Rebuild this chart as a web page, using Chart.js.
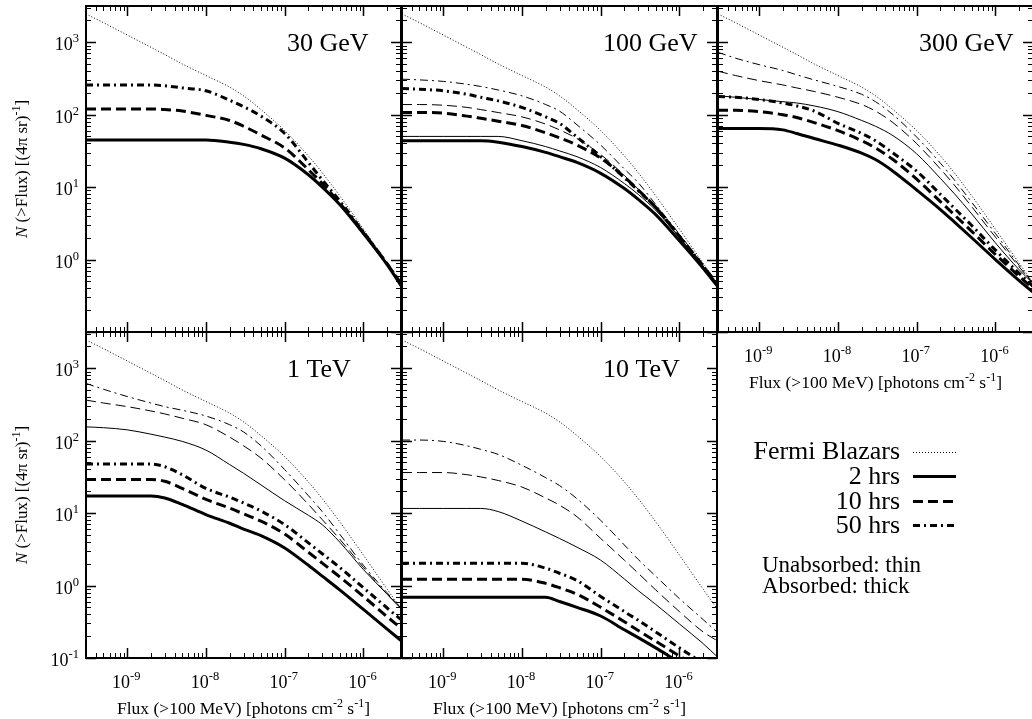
<!DOCTYPE html>
<html><head><meta charset="utf-8">
<script src="https://cdn.jsdelivr.net/npm/chart.js@4.4.0/dist/chart.umd.min.js"></script>
<style>
html,body{margin:0;padding:0;background:#fff;overflow:hidden;width:1032px;height:719px;position:relative;}
canvas{position:absolute;left:0;top:0;}
</style></head><body>
<script>
// ---------------- DATA ----------------
const flux = [3e-10,5e-10,1e-9,2e-9,3e-9,5e-9,1e-8,2e-8,3e-8,5e-8,1e-7,2e-7,3e-7,5e-7,1e-6,2e-6,3e-6];
const xTickExps = [-9,-8,-7,-6];
const yTickExps = [3,2,1,0,-1];

const fermiBlazars = [2455,1862,1259,851,676,501,347,240,182,117.5,60.3,26.9,15.8,7.59,2.63,0.891,0.479];

// 30 GeV (absorbed = unabsorbed)
const gev30_2h  = [44.7,44.7,44.7,44.7,44.7,44.7,44.7,41.7,38.9,33.9,25.1,14.8,10.0,5.75,2.29,0.851,0.437];
const gev30_10h = [120,120,120,120,117.5,112.2,97.7,83.2,69.2,52.5,34.7,17.4,11.2,6.03,2.34,0.871,0.457];
const gev30_50h = [257,257,257,257,251,234,214,158,129,95.5,55.0,21.9,12.6,6.46,2.40,0.871,0.468];

// 100 GeV
const gev100_2h_abs   = [43.7,43.7,43.7,43.7,43.7,41.7,36.3,30.2,26.3,21.9,15.5,9.55,6.76,4.17,1.82,0.759,0.437];
const gev100_2h_unabs = [50.1,50.1,50.1,50.1,50.1,50.1,43.7,36.3,31.6,26.3,18.6,11.2,7.94,4.79,2.0,0.794,0.457];
const gev100_10h_abs  = [107,107,105,95.5,89.1,81.3,70.8,56.2,47.9,38.0,25.1,13.8,9.12,5.25,2.09,0.813,0.457];
const gev100_10h_unabs= [138,138,135,126,117.5,107,93.3,74.1,61.7,46.8,28.2,14.5,9.33,5.13,2.04,0.813,0.468];
const gev100_50h_abs  = [229,224,214,191,174,155,126,93.3,75.9,49.0,26.3,13.5,8.91,5.25,2.09,0.813,0.457];
const gev100_50h_unabs= [309,302,288,263,245,219,182,138,112,72.4,38.0,17.8,11.5,5.75,2.24,0.832,0.468];

// 300 GeV
const gev300_2h_abs   = [64.6,64.6,64.6,61.7,55.0,46.8,38.0,29.5,24.0,16.6,9.12,4.90,3.31,2.0,1.0,0.513,0.355];
const gev300_2h_unabs = [182,174,162,151,145,132,110,83.2,69.2,51.3,28.8,13.2,8.13,4.27,1.698,0.724,0.468];
const gev300_10h_abs  = [115,115,110,100,91.2,77.6,60.3,43.7,34.7,24.0,12.9,6.31,4.17,2.45,1.175,0.589,0.398];
const gev300_10h_unabs= [398,347,295,257,234,209,174,138,112,77.6,39.8,17.8,10.7,5.37,2.04,0.794,0.468];
const gev300_50h_abs  = [178,174,162,145,132,112,75.9,55.0,43.7,29.5,16.6,7.94,5.13,2.95,1.35,0.646,0.427];
const gev300_50h_unabs= [724,603,490,407,355,302,245,191,151,100,49.0,21.4,12.6,6.17,2.29,0.832,0.468];

// 1 TeV
const tev1_2h_abs   = [17.2,17.2,17.2,17.2,16.2,13.2,9.55,7.24,6.03,4.90,3.31,1.905,1.349,0.871,0.468,0.251,0.174];
const tev1_2h_unabs = [155,151,141,123,112,97.7,74.1,46.8,35.5,24.5,14.8,9.33,6.92,3.98,1.66,0.759,0.479];
const tev1_10h_abs  = [29.2,29.2,29.2,29.2,27.5,21.9,15.5,11.7,9.77,7.76,5.13,2.88,2.04,1.318,0.708,0.372,0.257];
const tev1_10h_unabs= [363,331,295,257,234,204,166,112,85.1,57.5,28.8,13.2,8.13,4.37,1.778,0.759,0.490];
const tev1_50h_abs  = [47.6,47.6,47.6,47.6,43.7,33.9,21.9,16.6,13.8,10.7,6.92,3.89,2.75,1.778,0.933,0.490,0.339];
const tev1_50h_unabs= [617,513,407,331,295,263,219,166,132,85.1,39.8,17.4,10.5,5.13,1.905,0.794,0.490];

// 10 TeV
const tev10_2h_abs   = [0.689,0.689,0.689,0.689,0.689,0.689,0.689,0.689,0.603,0.501,0.380,0.245,0.191,0.138,0.0871,0.0562,0.0427];
const tev10_2h_unabs = [11.6,11.6,11.6,11.6,11.6,10.5,7.76,5.50,4.47,3.39,2.24,1.23,0.851,0.550,0.295,0.158,0.105];
const tev10_10h_abs  = [1.22,1.22,1.22,1.22,1.22,1.22,1.22,1.072,0.933,0.759,0.501,0.316,0.240,0.170,0.107,0.0676,0.0513];
const tev10_10h_unabs= [36.3,36.3,36.3,33.9,31.6,28.2,22.9,16.2,12.9,8.91,4.47,2.24,1.479,0.871,0.437,0.229,0.174];
const tev10_50h_abs  = [2.03,2.03,2.03,2.03,2.03,2.03,2.03,1.738,1.479,1.175,0.708,0.437,0.331,0.229,0.138,0.0851,0.0646];
const tev10_50h_unabs= [102,102,97.7,85.1,75.9,64.6,45.7,30.9,24.0,15.8,7.94,3.63,2.29,1.349,0.661,0.339,0.229];

const panelLabels = ['30 GeV','100 GeV','300 GeV','1 TeV','10 TeV'];
const legendLabels = ['Fermi Blazars','2 hrs','10 hrs','50 hrs'];
const noteLabels = ['Unabsorbed: thin','Absorbed: thick'];

// ---------------- STYLE / LAYOUT ----------------
const W = 1040, H = 719;
const FONT = '"Liberation Serif","Times New Roman",serif';
const STYLE = {
  fermi:        {w:1, dash:[1,2]},
  solidThick:   {w:3, dash:[]},
  solidThin:    {w:1, dash:[]},
  dashedThick:  {w:3, dash:[10,5]},
  dashedThin:   {w:1, dash:[10,5]},
  dashdotThick: {w:3, dash:[7,4,2,4]},
  dashdotThin:  {w:1, dash:[8,4,2,4]}
};
const panels = [
  {label:panelLabels[0], box:[86,6,401,332],  yLab:true,  xLab:false,
   series:[[gev30_2h,'solidThick'],[gev30_10h,'dashedThick'],[gev30_50h,'dashdotThick'],[fermiBlazars,'fermi']]},
  {label:panelLabels[1], box:[402,6,717,332], yLab:false, xLab:false,
   series:[[gev100_2h_unabs,'solidThin'],[gev100_10h_unabs,'dashedThin'],[gev100_50h_unabs,'dashdotThin'],
           [gev100_2h_abs,'solidThick'],[gev100_10h_abs,'dashedThick'],[gev100_50h_abs,'dashdotThick'],[fermiBlazars,'fermi']]},
  {label:panelLabels[2], box:[718,6,1033,332], yLab:false, xLab:true,
   series:[[gev300_2h_unabs,'solidThin'],[gev300_10h_unabs,'dashedThin'],[gev300_50h_unabs,'dashdotThin'],
           [gev300_2h_abs,'solidThick'],[gev300_10h_abs,'dashedThick'],[gev300_50h_abs,'dashdotThick'],[fermiBlazars,'fermi']]},
  {label:panelLabels[3], box:[86,332,401,658], yLab:true, xLab:true,
   series:[[tev1_2h_unabs,'solidThin'],[tev1_10h_unabs,'dashedThin'],[tev1_50h_unabs,'dashdotThin'],
           [tev1_2h_abs,'solidThick'],[tev1_10h_abs,'dashedThick'],[tev1_50h_abs,'dashdotThick'],[fermiBlazars,'fermi']]},
  {label:panelLabels[4], box:[402,332,717,658], yLab:false, xLab:true, legend:true,
   series:[[tev10_2h_unabs,'solidThin'],[tev10_10h_unabs,'dashedThin'],[tev10_50h_unabs,'dashdotThin'],
           [tev10_2h_abs,'solidThick'],[tev10_10h_abs,'dashedThick'],[tev10_50h_abs,'dashdotThick'],[fermiBlazars,'fermi']]}
];

function runs(ctx, parts, x, y, align){
  let total = 0;
  const ws = parts.map(p => { ctx.font = (p[2]?'italic ':'') + p[1] + 'px ' + FONT; const w = ctx.measureText(p[0]).width; total += w; return w; });
  let cx = align === 'center' ? x - total/2 : align === 'right' ? x - total : x;
  ctx.textAlign = 'left'; ctx.textBaseline = 'alphabetic';
  parts.forEach((p,i) => { ctx.font = (p[2]?'italic ':'') + p[1] + 'px ' + FONT; ctx.fillText(p[0], cx, y + (p[3]||0)); cx += ws[i]; });
}
function pow10(ctx, e, x, y, align){
  runs(ctx, [['10',18,false,0],[String(e),12.5,false,-8]], x, y, align);
}

const framePlugin = {
  id:'framePlugin',
  afterDatasetsDraw(chart){
    const P = chart.options.plugins.framePlugin;
    const ctx = chart.ctx, a = chart.chartArea, xs = chart.scales.x, ys = chart.scales.y;
    ctx.save();
    ctx.strokeStyle = '#000'; ctx.fillStyle = '#000'; ctx.setLineDash([]);
    for (let e = -10; e <= -5; e++) for (let m = 1; m <= 9; m++) {
      const v = m * Math.pow(10, e);
      if (v < xs.min * 0.999 || v > xs.max * 1.001) continue;
      const p = Math.round(xs.getPixelForValue(v)) + 0.5;
      const L = m === 1 ? 10 : 5;
      ctx.lineWidth = m === 1 ? 1.5 : 1;
      ctx.beginPath(); ctx.moveTo(p, a.bottom); ctx.lineTo(p, a.bottom - L);
      ctx.moveTo(p, a.top); ctx.lineTo(p, a.top + L); ctx.stroke();
    }
    for (let e = -2; e <= 3; e++) for (let m = 1; m <= 9; m++) {
      const v = m * Math.pow(10, e);
      if (v < ys.min * 0.999 || v > ys.max * 1.001) continue;
      const p = Math.round(ys.getPixelForValue(v)) + 0.5;
      const L = m === 1 ? 10 : 5;
      ctx.lineWidth = m === 1 ? 1.5 : 1;
      ctx.beginPath(); ctx.moveTo(a.left, p); ctx.lineTo(a.left + L, p);
      ctx.moveTo(a.right, p); ctx.lineTo(a.right - L, p); ctx.stroke();
    }
    ctx.lineWidth = 2;
    ctx.strokeRect(a.left, a.top, a.right - a.left, a.bottom - a.top);
    ctx.font = '26px ' + FONT; ctx.textAlign = 'left'; ctx.textBaseline = 'alphabetic';
    ctx.fillText(P.label, a.left + 201, a.top + 45);
    if (P.yLab) {
      yTickExps.forEach(e => {
        const v = Math.pow(10, e);
        if (v < ys.min * 0.999 || v > ys.max * 1.001) return;
        if (e === -1 && a.top < 100) return;
        pow10(ctx, e, a.left - 7, ys.getPixelForValue(v) + 8, 'right');
      });
      ctx.save();
      ctx.translate(27, (a.top + a.bottom) / 2);
      ctx.rotate(-Math.PI / 2);
      runs(ctx, [['N',17,true,0],[' (>Flux) [(4\u03c0 sr)',17,false,0],['-1',12,false,-7],[']',17,false,0]], 0, 0, 'center');
      ctx.restore();
    }
    if (P.xLab) {
      xTickExps.forEach(e => {
        const v = Math.pow(10, e);
        pow10(ctx, e, xs.getPixelForValue(v) - 1, a.bottom + 30, 'center');
      });
      runs(ctx, [['Flux (>100 MeV) [photons cm',17.5,false,0],['-2',12,false,-7],[' s',17.5,false,0],['-1',12,false,-7],[']',17.5,false,0]],
           (a.left + a.right) / 2, a.bottom + 56, 'center');
    }
    if (P.legend) {
      const keys = ['fermi','solidThick','dashedThick','dashdotThick'];
      const ty = [459, 484, 509, 533];
      const ly = [452.5, 476.5, 501.5, 525.5];
      keys.forEach((k, i) => {
        ctx.font = '26px ' + FONT; ctx.textAlign = 'right'; ctx.fillText(legendLabels[i], 900, ty[i]);
        const s = STYLE[k];
        ctx.lineWidth = s.w; ctx.setLineDash(s.dash);
        ctx.beginPath(); ctx.moveTo(913, ly[i]); ctx.lineTo(956, ly[i]); ctx.stroke();
      });
      ctx.setLineDash([]);
      ctx.font = '23px ' + FONT; ctx.textAlign = 'left';
      ctx.fillText(noteLabels[0], 762, 572);
      ctx.fillText(noteLabels[1], 762, 593);
    }
    ctx.restore();
  }
};

panels.forEach((p) => {
  const cv = document.createElement('canvas');
  cv.width = W; cv.height = H; cv.style.width = W + 'px'; cv.style.height = H + 'px';
  document.body.appendChild(cv);
  const [l, t, r, b] = p.box;
  new Chart(cv, {
    type: 'line',
    data: {
      datasets: p.series.map(([vals, key]) => ({
        data: flux.map((f, i) => ({x: f, y: vals[i]})),
        borderColor: '#000', borderWidth: STYLE[key].w, borderDash: STYLE[key].dash,
        pointRadius: 0, fill: false, cubicInterpolationMode: 'monotone', borderCapStyle: 'butt'
      }))
    },
    options: {
      responsive: false, animation: false, devicePixelRatio: 1,
      layout: {padding: {left: l, top: t, right: W - r, bottom: H - b}},
      plugins: {legend: {display: false}, tooltip: {enabled: false},
        framePlugin: {label: p.label, yLab: p.yLab, xLab: p.xLab, legend: !!p.legend}},
      scales: {
        x: {type: 'logarithmic', min: 3e-10, max: 3e-6, display: false},
        y: {type: 'logarithmic', min: 0.1, max: 3162, display: false}
      }
    },
    plugins: [framePlugin]
  });
});
</script>
</body></html>
